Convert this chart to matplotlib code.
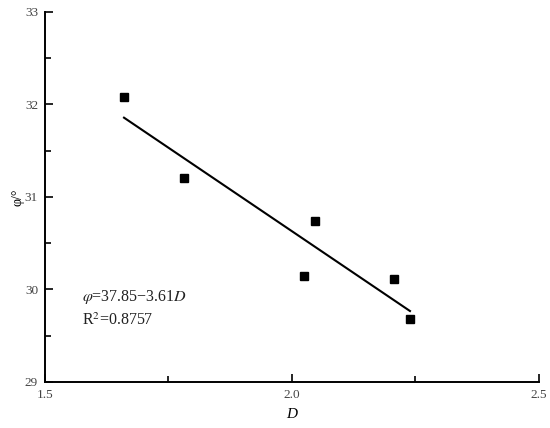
import matplotlib.pyplot as plt
from matplotlib.ticker import MultipleLocator

# measured points
D_vals = [1.660, 1.781, 2.024, 2.047, 2.207, 2.239]
phi_vals = [32.08, 31.20, 30.15, 30.74, 30.11, 29.68]

# fitted line phi = a + b*D
fit_a = 37.85
fit_b = -3.61
fit_range = [1.660, 2.239]

plt.rcParams['font.family'] = ['Liberation Serif', 'DejaVu Serif']

fig = plt.figure(figsize=(5.5, 4.28), dpi=100)
ax = fig.add_axes([0.0818, 0.1075, 0.898, 0.8645])

ax.plot(D_vals, phi_vals, 's', color='black', markersize=6, zorder=3)
fit_y = [fit_a + fit_b * d for d in fit_range]
ax.plot(fit_range, fit_y, '-', color='black', linewidth=1.5)

ax.set_xlim(1.5, 2.5)
ax.set_ylim(29, 33)
ax.xaxis.set_major_locator(MultipleLocator(0.5))
ax.xaxis.set_minor_locator(MultipleLocator(0.25))
ax.yaxis.set_major_locator(MultipleLocator(1))
ax.yaxis.set_minor_locator(MultipleLocator(0.5))
ax.xaxis.set_major_formatter(plt.FormatStrFormatter('%.1f'))
ax.yaxis.set_major_formatter(plt.FormatStrFormatter('%d'))

for side in ['top', 'right']:
    ax.spines[side].set_visible(False)
for side in ['left', 'bottom']:
    ax.spines[side].set_linewidth(1.4)

ax.tick_params(which='major', direction='in', length=6, width=1.2,
               labelsize=9.5, labelcolor='#444444', pad=5)
ax.tick_params(which='minor', direction='in', length=4, width=1.2)

ax.set_xlabel('D', fontsize=11, fontstyle='italic', labelpad=5)
ax.set_ylabel('φ/°', fontsize=10, labelpad=0)

ax.text(0.075, 0.218, r'$\varphi$=37.85−3.61$D$', transform=ax.transAxes,
        fontsize=11.5, color='#222222', math_fontfamily='stix')
ax.text(0.075, 0.153, r'R$^2$=0.8757', transform=ax.transAxes,
        fontsize=11.5, color='#222222', math_fontfamily='stix')

fig.savefig('out.png', dpi=100)
